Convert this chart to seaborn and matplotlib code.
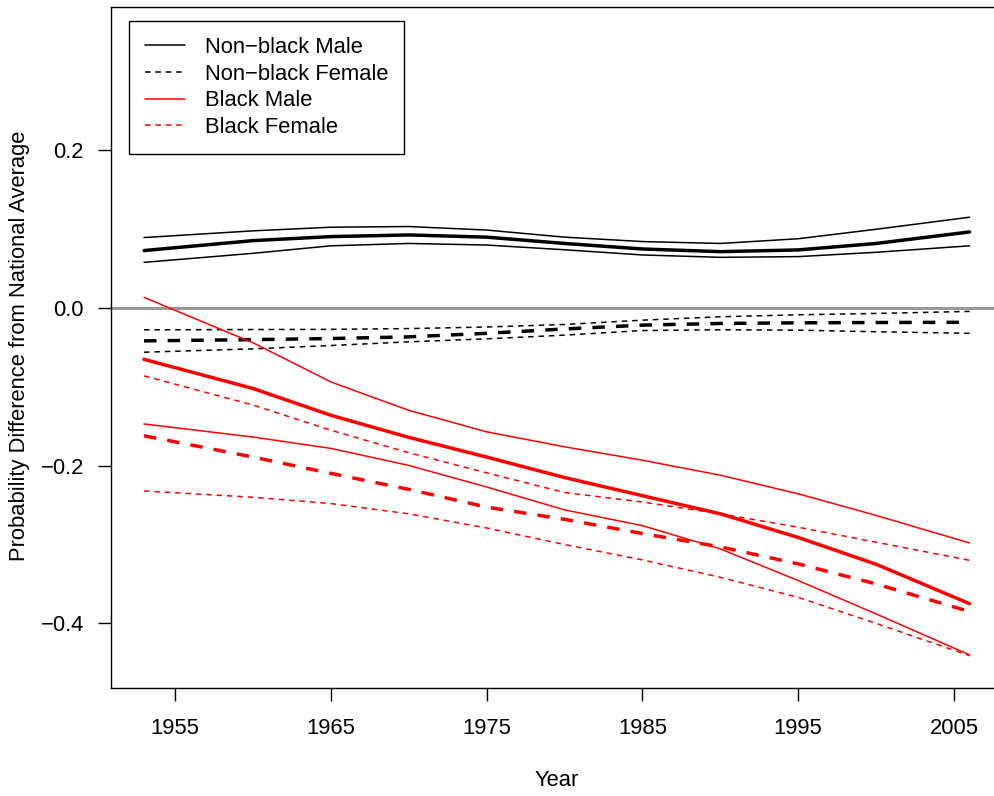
import matplotlib
matplotlib.use("Agg")
import matplotlib.pyplot as plt
import seaborn as sns
import pandas as pd
from matplotlib.lines import Line2D

years = [1953, 1960, 1965, 1970, 1975, 1980, 1985, 1990, 1995, 2000, 2006]

nbm_mean = [0.0730, 0.0856, 0.0907, 0.0928, 0.0900, 0.0820, 0.0750, 0.0716, 0.0738, 0.0820, 0.0966]
nbm_hi = [0.0895, 0.0980, 0.1026, 0.1035, 0.0990, 0.0900, 0.0844, 0.0820, 0.0880, 0.1000, 0.1153]
nbm_lo = [0.0580, 0.0695, 0.0790, 0.0820, 0.0800, 0.0740, 0.0674, 0.0644, 0.0653, 0.0708, 0.0790]

nbf_mean = [-0.0416, -0.0400, -0.0386, -0.0365, -0.0320, -0.0265, -0.0216, -0.0195, -0.0187, -0.0183, -0.0180]
nbf_hi = [-0.0276, -0.0272, -0.0270, -0.0260, -0.0240, -0.0208, -0.0153, -0.0110, -0.0085, -0.0068, -0.0042]
nbf_lo = [-0.0560, -0.0517, -0.0475, -0.0428, -0.0390, -0.0343, -0.0285, -0.0275, -0.0280, -0.0300, -0.0320]

bm_mean = [-0.065, -0.102, -0.136, -0.164, -0.189, -0.215, -0.238, -0.261, -0.291, -0.325, -0.375]
bm_hi = [0.0136, -0.044, -0.0937, -0.1297, -0.157, -0.176, -0.193, -0.212, -0.2356, -0.263, -0.298]
bm_lo = [-0.147, -0.1636, -0.178, -0.1996, -0.227, -0.256, -0.276, -0.3055, -0.3457, -0.388, -0.440]

bf_mean = [-0.162, -0.189, -0.2097, -0.230, -0.2525, -0.268, -0.286, -0.303, -0.3245, -0.350, -0.385]
bf_hi = [-0.086, -0.123, -0.155, -0.1835, -0.209, -0.234, -0.246, -0.261, -0.278, -0.297, -0.320]
bf_lo = [-0.232, -0.240, -0.248, -0.261, -0.279, -0.300, -0.3195, -0.3415, -0.367, -0.400, -0.441]

groups = ["Non\u2212black Male", "Non\u2212black Female", "Black Male", "Black Female"]
xticks = [1955, 1965, 1975, 1985, 1995, 2005]
yticks = [-0.4, -0.2, 0.0, 0.2]
ytick_labels = ["\u22120.4", "\u22120.2", "0.0", "0.2"]

series = {
    groups[0]: (nbm_mean, nbm_hi, nbm_lo),
    groups[1]: (nbf_mean, nbf_hi, nbf_lo),
    groups[2]: (bm_mean, bm_hi, bm_lo),
    groups[3]: (bf_mean, bf_hi, bf_lo),
}
rows = []
for g, (m, h, l) in series.items():
    for band, vals in (("mean", m), ("hi", h), ("lo", l)):
        for y, v in zip(years, vals):
            rows.append({"year": y, "value": v, "group": g, "band": band})
df = pd.DataFrame(rows)

sns.set_style("white")
plt.rcParams["font.family"] = ["Liberation Sans", "DejaVu Sans"]
plt.rcParams["text.color"] = "black"
plt.rcParams["axes.labelcolor"] = "black"

FS = 15.8
W, H = 995, 796
fig = plt.figure(figsize=(W / 100, H / 100), dpi=100)
left, right, top, bottom = 111, 1002.6, 7, 688
ax = fig.add_axes([left / W, 1 - bottom / H, (right - left) / W, (bottom - top) / H])

ax.axhline(0, color="#999999", lw=2.2, zorder=1)

colors = {groups[0]: "black", groups[1]: "black", groups[2]: "#ff0000", groups[3]: "#ff0000"}
female = {groups[0]: False, groups[1]: True, groups[2]: False, groups[3]: True}
thin_lw, thick_lw = 1.1, 2.5
dash = (0, (3.6, 3.2))

for g in groups:
    for band in ("mean", "hi", "lo"):
        sub = df[(df.group == g) & (df.band == band)]
        lw = thick_lw if band == "mean" else thin_lw
        kw = {}
        if female[g]:
            kw["linestyle"] = dash
        sns.lineplot(data=sub, x="year", y="value", ax=ax, color=colors[g], lw=lw,
                     estimator=None, sort=True, zorder=3, **kw)

ax.set_xlim(1950.88, 2008.12)
ax.set_ylim(-0.482, 0.382)
ax.set_xticks(xticks)
ax.set_xticklabels([str(t) for t in xticks])
ax.set_yticks(yticks)
ax.set_yticklabels(ytick_labels)
ax.tick_params(axis="both", direction="out", length=9.4, width=1.0, color="black",
               labelsize=FS, labelcolor="black", left=True, bottom=True)
ax.tick_params(axis="x", pad=12)
ax.tick_params(axis="y", pad=10)
for s in ax.spines.values():
    s.set_visible(True)
    s.set_color("black")
    s.set_linewidth(1.0)

ax.set_xlabel("Year", fontsize=FS)
ax.set_ylabel("Probability Difference from National Average", fontsize=FS)
ax.xaxis.set_label_coords(0.5, -(780 - bottom) / (bottom - top))
ax.yaxis.set_label_coords(-(111 - 20) / (right - left), (bottom - 346) / (bottom - top))
ax.xaxis.label.set_va("center")
ax.yaxis.label.set_va("center")

handles = [
    Line2D([], [], color="black", lw=thin_lw),
    Line2D([], [], color="black", lw=thin_lw, linestyle=dash),
    Line2D([], [], color="#ff0000", lw=thin_lw),
    Line2D([], [], color="#ff0000", lw=thin_lw, linestyle=dash),
]
leg = ax.legend(handles, groups, loc="upper left",
                bbox_to_anchor=((129 - left) / (right - left), (bottom - 21) / (bottom - top)),
                borderaxespad=0, fontsize=FS, frameon=True, fancybox=False, shadow=False,
                handlelength=1.85, handletextpad=0.9, labelspacing=0.26, borderpad=0.72)
leg.get_frame().set_edgecolor("black")
leg.get_frame().set_linewidth(1.0)
leg.get_frame().set_alpha(1)
for t in leg.get_texts():
    t.set_color("black")

fig.savefig("out.png", dpi=100)
